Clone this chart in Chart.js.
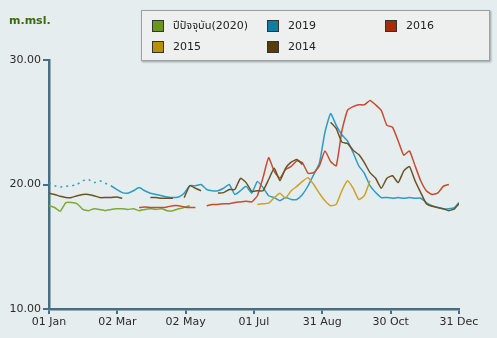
<!DOCTYPE html>
<html lang="th">
<head>
  <meta charset="UTF-8">
  <title>ระดับน้ำ m.msl.</title>
  <style>
    html, body {
      margin: 0;
      padding: 0;
      background: #e6edef;
      font-family: "DejaVu Sans", Verdana, sans-serif;
    }
    .wrap {
      position: relative;
      width: 497px;
      height: 338px;
      overflow: hidden;
    }
    canvas { position: absolute; left: 0; top: 0; }
    .unit {
      position: absolute;
      left: 9px;
      top: 14px;
      font-size: 11px;
      font-weight: bold;
      color: #386a0e;
    }
    .legend {
      position: absolute;
      left: 141px;
      top: 10px;
      width: 347px;
      height: 49px;
      background: #eef0f0;
      border: 1px solid #9ba2a5;
      box-shadow: 1px 1px 2px rgba(0,0,0,0.35);
    }
    .item {
      position: absolute;
      font-size: 11px;
      color: #222;
      white-space: nowrap;
      line-height: 13px;
      font-family: "DejaVu Sans", "Noto Sans Thai", "Noto Sans", sans-serif;
    }
    .item span.sw {
      position: absolute;
      left: 0;
      top: 1px;
      width: 10px;
      height: 10px;
      border: 1px solid #333;
    }
    .item span.tx { margin-left: 21px; }
  </style>
  <script src="https://cdn.jsdelivr.net/npm/chart.js"></script>
</head>
<body>
  <div class="wrap">
    <canvas id="chart" width="497" height="338"></canvas>
    <div class="unit">m.msl.</div>
    <div class="legend" id="legend"></div>
  </div>

  <script>
    // day of year (0 = 01 Jan), sampled every 5 days
    const days = [];
    for (let d = 0; d <= 360; d += 5) days.push(d);
    days.push(364);

    const tickDays = [0, 60.67, 121.33, 182, 242.67, 303.33, 364];
    const tickLabels = ['01 Jan', '02 Mar', '02 May', '01 Jul', '31 Aug', '30 Oct', '31 Dec'];

    const y2020 = [
      18.3, 18.15, 17.85, 18.55, 18.55, 18.45, 18.0, 17.9, 18.05, 18.0,
      17.9, 18.0, 18.05, 18.05, 18.0, 18.05, 17.9, 18.0, 18.05, 18.0,
      18.05, 17.9, 17.9, 18.05, 18.15, 18.3, null, null, null, null,
      null, null, null, null, null, null, null, null, null, null,
      null, null, null, null, null, null, null, null, null, null,
      null, null, null, null, null, null, null, null, null, null,
      null, null, null, null, null, null, null, null, null, null,
      null, null, null, null
    ];

    const y2019 = [
      20.1, 19.9, 19.8, 19.85, 19.9, 20.0, 20.3, 20.4, 20.15, 20.3,
      20.1, 19.9, 19.6, 19.35, 19.3, 19.5, 19.75, 19.5, 19.3, 19.2,
      19.1, 19.0, 18.95, 19.0, 19.3, 19.9, 19.9, 20.0, 19.6, 19.5,
      19.5, 19.7, 20.0, 19.2, 19.5, 19.85, 19.3, 20.25, 19.75, 19.1,
      18.95, 18.7, 18.95, 18.8, 18.8, 19.2, 19.9, 20.8, 21.7, 24.2,
      25.7, 24.75, 24.0, 23.5, 22.55, 21.5, 20.9, 19.9, 19.35, 18.95,
      18.95, 18.9, 18.95, 18.9, 18.95, 18.9, 18.9, 18.55, 18.3, 18.15,
      18.05, 18.05, 18.15, 18.55
    ];

    const y2016 = [
      null, null, null, null, null, null, null, null, null, null,
      null, null, null, null, null, null, 18.15, 18.2, 18.15, 18.15,
      18.15, 18.2, 18.3, 18.3, 18.2, 18.15, 18.15, null, 18.3, 18.4,
      18.4, 18.45, 18.45, 18.55, 18.6, 18.65, 18.6, 19.1, 20.55, 22.15,
      21.05, 20.5, 21.2, 21.45, 21.9, 21.75, 20.9, 20.95, 21.5, 22.7,
      21.85, 21.5, 24.3, 25.95, 26.25, 26.4, 26.4, 26.75, 26.4, 25.95,
      24.75, 24.6, 23.5, 22.35, 22.7, 21.5, 20.3, 19.5, 19.2, 19.3,
      19.85, 20.0, null, null
    ];

    const y2015 = [
      null, null, null, null, null, null, null, null, null, null,
      null, null, null, null, null, null, null, null, null, null,
      null, null, null, null, null, null, null, null, null, null,
      null, null, null, null, null, null, null, 18.4, 18.45, 18.5,
      18.95, 19.3, 18.9, 19.5, 19.85, 20.25, 20.55, 20.0, 19.3, 18.7,
      18.3, 18.4, 19.5, 20.3, 19.7, 18.8, 19.1, 20.3, null, null,
      null, null, null, null, null, null, null, null, null, null,
      null, null, null, null
    ];

    const y2014 = [
      19.3, 19.2, 19.05, 18.95, 18.95, 19.1, 19.2, 19.2, 19.1, 18.95,
      18.95, 18.95, 19.0, 18.9, null, null, null, null, 18.95, 18.95,
      18.9, 18.9, 18.9, null, 18.95, 19.9, 19.7, 19.5, null, null,
      19.3, 19.35, 19.6, 19.6, 20.5, 20.15, 19.45, 19.5, 19.5, 20.4,
      21.3, 20.3, 21.3, 21.8, 22.0, 21.6, null, null, null, null,
      25.0, 24.5, 23.4, 23.3, 22.75, 22.4, 21.75, 20.95, 20.5, 19.7,
      20.5, 20.7, 20.15, 21.1, 21.45, 20.3, 19.35, 18.45, 18.25, 18.15,
      18.05, 17.9, 18.05, 18.45
    ];

    const axisColor = '#46707f';

    function pts(vals) {
      return days.map((d, i) => ({ x: d, y: vals[i] }));
    }

    const series = [
      { label: 'ปีปัจจุบัน(2020)', vals: y2020, line: '#7fa836', swatch: '#6a961e' },
      { label: '2019', vals: y2019, line: '#2b9cc6', swatch: '#0d7fa5' },
      { label: '2016', vals: y2016, line: '#c84b30', swatch: '#a82a08' },
      { label: '2015', vals: y2015, line: '#cfa224', swatch: '#bb9000' },
      { label: '2014', vals: y2014, line: '#6a5223', swatch: '#5a3c0a' }
    ];

    // legend laid out in a 3-column grid like the original
    const legend = document.getElementById('legend');
    const cols = [10, 125, 243];
    const rows = [8, 29];
    series.forEach((s, i) => {
      const el = document.createElement('div');
      el.className = 'item';
      el.style.left = cols[i % 3] + 'px';
      el.style.top = rows[Math.floor(i / 3)] + 'px';
      el.innerHTML = '<span class="sw" style="background:' + s.swatch + '"></span><span class="tx"></span>';
      el.querySelector('.tx').textContent = s.label;
      legend.appendChild(el);
    });

    const ctx = document.getElementById('chart').getContext('2d');
    new Chart(ctx, {
      type: 'line',
      data: {
        datasets: series.slice().reverse().map(s => ({
          label: s.label,
          data: pts(s.vals),
          borderColor: s.line,
          borderWidth: 1.5,
          pointRadius: 0,
          tension: 0.15,
          spanGaps: false,
          segment: s.label === '2019' ? {
            borderDash: c => c.p0.parsed.x < 55 ? [2, 4] : undefined
          } : undefined
        }))
      },
      options: {
        responsive: false,
        animation: false,
        layout: { padding: { top: 60, right: 38, left: 0, bottom: 0 } },
        plugins: {
          legend: { display: false },
          tooltip: { enabled: false }
        },
        scales: {
          x: {
            type: 'linear',
            min: 0,
            max: 364,
            afterBuildTicks: scale => {
              scale.ticks = tickDays.map(v => ({ value: v }));
            },
            afterFit: scale => { scale.height = 29; },
            border: { color: axisColor, width: 2.5 },
            grid: {
              drawOnChartArea: false,
              color: axisColor,
              tickLength: 5,
              lineWidth: 2
            },
            ticks: {
              autoSkip: false,
              maxRotation: 0,
              padding: 2,
              color: '#2a2a2a',
              font: { family: 'DejaVu Sans', size: 11 },
              callback: (v, i) => tickLabels[i]
            }
          },
          y: {
            min: 10,
            max: 30,
            afterFit: scale => { scale.width = 49; },
            border: { color: axisColor, width: 2.5 },
            grid: {
              drawOnChartArea: false,
              color: axisColor,
              tickLength: 6,
              lineWidth: 2
            },
            ticks: {
              stepSize: 10,
              padding: 2,
              color: '#2a2a2a',
              font: { family: 'DejaVu Sans', size: 11 },
              callback: v => v.toFixed(2)
            }
          }
        }
      }
    });
  </script>
</body>
</html>
